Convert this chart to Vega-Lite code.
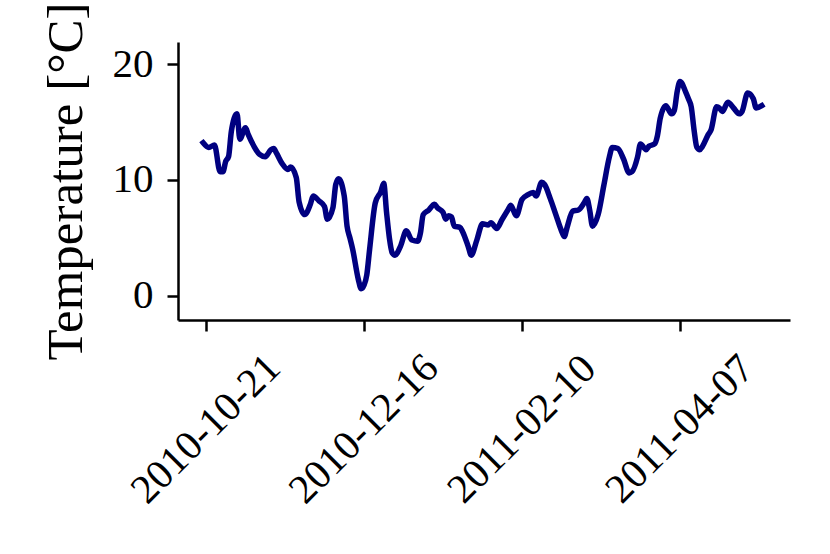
{
  "$schema": "https://vega.github.io/schema/vega-lite/v6.json",
  "width": 612,
  "height": 278,
  "autosize": "none",
  "padding": {"left": 178, "top": 42, "right": 40, "bottom": 234},
  "background": "white",
  "config": {
    "view": {"stroke": null},
    "font": "Liberation Serif",
    "axis": {"grid": false, "domainColor": "black", "tickColor": "black", "labelColor": "black", "titleColor": "black", "domainWidth": 2.5, "tickWidth": 2.5, "tickSize": 11, "labelFont": "Liberation Serif", "titleFont": "Liberation Serif", "labelFontSize": 41, "titleFontSize": 51, "titleFontWeight": "normal", "labelLimit": 0}
  },
  "data": {
    "values": [
      {"date": "2010-10-20", "temp": 13.2},
      {"date": "2010-10-22", "temp": 12.8},
      {"date": "2010-10-24", "temp": 13.0},
      {"date": "2010-10-26", "temp": 10.7},
      {"date": "2010-10-27", "temp": 10.7},
      {"date": "2010-10-28", "temp": 11.6},
      {"date": "2010-10-29", "temp": 12.0},
      {"date": "2010-10-30", "temp": 14.2},
      {"date": "2010-11-01", "temp": 15.7},
      {"date": "2010-11-02", "temp": 13.5},
      {"date": "2010-11-04", "temp": 14.5},
      {"date": "2010-11-05", "temp": 13.9},
      {"date": "2010-11-07", "temp": 12.9},
      {"date": "2010-11-09", "temp": 12.2},
      {"date": "2010-11-11", "temp": 12.0},
      {"date": "2010-11-13", "temp": 12.6},
      {"date": "2010-11-14", "temp": 12.7},
      {"date": "2010-11-15", "temp": 12.3},
      {"date": "2010-11-17", "temp": 11.4},
      {"date": "2010-11-19", "temp": 10.9},
      {"date": "2010-11-20", "temp": 11.1},
      {"date": "2010-11-22", "temp": 10.2},
      {"date": "2010-11-23", "temp": 8.1},
      {"date": "2010-11-25", "temp": 7.0},
      {"date": "2010-11-27", "temp": 7.9},
      {"date": "2010-11-28", "temp": 8.6},
      {"date": "2010-11-30", "temp": 8.2},
      {"date": "2010-12-02", "temp": 7.7},
      {"date": "2010-12-03", "temp": 6.6},
      {"date": "2010-12-05", "temp": 7.6},
      {"date": "2010-12-06", "temp": 9.6},
      {"date": "2010-12-07", "temp": 10.1},
      {"date": "2010-12-09", "temp": 8.6},
      {"date": "2010-12-10", "temp": 6.0},
      {"date": "2010-12-11", "temp": 5.0},
      {"date": "2010-12-12", "temp": 4.0},
      {"date": "2010-12-14", "temp": 1.4},
      {"date": "2010-12-15", "temp": 0.6},
      {"date": "2010-12-16", "temp": 0.9},
      {"date": "2010-12-17", "temp": 1.8},
      {"date": "2010-12-18", "temp": 4.0},
      {"date": "2010-12-20", "temp": 8.0},
      {"date": "2010-12-22", "temp": 9.0},
      {"date": "2010-12-23", "temp": 9.7},
      {"date": "2010-12-24", "temp": 7.2},
      {"date": "2010-12-25", "temp": 5.0},
      {"date": "2010-12-26", "temp": 3.7},
      {"date": "2010-12-27", "temp": 3.5},
      {"date": "2010-12-29", "temp": 4.3},
      {"date": "2010-12-31", "temp": 5.6},
      {"date": "2011-01-02", "temp": 4.8},
      {"date": "2011-01-04", "temp": 4.7},
      {"date": "2011-01-05", "temp": 5.4},
      {"date": "2011-01-06", "temp": 7.0},
      {"date": "2011-01-08", "temp": 7.4},
      {"date": "2011-01-10", "temp": 7.9},
      {"date": "2011-01-11", "temp": 7.6},
      {"date": "2011-01-13", "temp": 7.2},
      {"date": "2011-01-14", "temp": 6.6},
      {"date": "2011-01-15", "temp": 6.9},
      {"date": "2011-01-16", "temp": 6.8},
      {"date": "2011-01-17", "temp": 6.0},
      {"date": "2011-01-19", "temp": 5.9},
      {"date": "2011-01-20", "temp": 5.5},
      {"date": "2011-01-22", "temp": 4.2},
      {"date": "2011-01-23", "temp": 3.5},
      {"date": "2011-01-25", "temp": 4.8},
      {"date": "2011-01-27", "temp": 6.2},
      {"date": "2011-01-29", "temp": 6.1},
      {"date": "2011-01-30", "temp": 6.3},
      {"date": "2011-02-01", "temp": 5.8},
      {"date": "2011-02-03", "temp": 6.6},
      {"date": "2011-02-05", "temp": 7.4},
      {"date": "2011-02-06", "temp": 7.8},
      {"date": "2011-02-08", "temp": 6.9},
      {"date": "2011-02-10", "temp": 8.3},
      {"date": "2011-02-12", "temp": 8.7},
      {"date": "2011-02-14", "temp": 8.9},
      {"date": "2011-02-15", "temp": 8.6},
      {"date": "2011-02-17", "temp": 9.8},
      {"date": "2011-02-18", "temp": 9.6},
      {"date": "2011-02-20", "temp": 8.4},
      {"date": "2011-02-22", "temp": 7.0},
      {"date": "2011-02-24", "temp": 5.6},
      {"date": "2011-02-25", "temp": 5.1},
      {"date": "2011-02-26", "temp": 5.9},
      {"date": "2011-02-28", "temp": 7.3},
      {"date": "2011-03-02", "temp": 7.4},
      {"date": "2011-03-04", "temp": 8.0},
      {"date": "2011-03-05", "temp": 8.4},
      {"date": "2011-03-06", "temp": 7.4},
      {"date": "2011-03-07", "temp": 6.0},
      {"date": "2011-03-09", "temp": 7.0},
      {"date": "2011-03-11", "temp": 9.5},
      {"date": "2011-03-13", "temp": 12.0},
      {"date": "2011-03-14", "temp": 12.8},
      {"date": "2011-03-16", "temp": 12.7},
      {"date": "2011-03-18", "temp": 11.8},
      {"date": "2011-03-20", "temp": 10.6},
      {"date": "2011-03-21", "temp": 10.7},
      {"date": "2011-03-23", "temp": 12.0},
      {"date": "2011-03-24", "temp": 13.1},
      {"date": "2011-03-26", "temp": 12.6},
      {"date": "2011-03-27", "temp": 12.9},
      {"date": "2011-03-29", "temp": 13.1},
      {"date": "2011-03-30", "temp": 13.8},
      {"date": "2011-03-31", "temp": 15.3},
      {"date": "2011-04-02", "temp": 16.4},
      {"date": "2011-04-04", "temp": 15.7},
      {"date": "2011-04-05", "temp": 16.0},
      {"date": "2011-04-06", "temp": 17.6},
      {"date": "2011-04-07", "temp": 18.5},
      {"date": "2011-04-09", "temp": 17.6},
      {"date": "2011-04-10", "temp": 17.0},
      {"date": "2011-04-11", "temp": 16.3},
      {"date": "2011-04-12", "temp": 14.3},
      {"date": "2011-04-13", "temp": 12.8},
      {"date": "2011-04-14", "temp": 12.6},
      {"date": "2011-04-15", "temp": 12.9},
      {"date": "2011-04-17", "temp": 13.9},
      {"date": "2011-04-18", "temp": 14.3},
      {"date": "2011-04-20", "temp": 16.3},
      {"date": "2011-04-21", "temp": 16.2},
      {"date": "2011-04-22", "temp": 15.9},
      {"date": "2011-04-24", "temp": 16.7},
      {"date": "2011-04-26", "temp": 16.2},
      {"date": "2011-04-28", "temp": 15.7},
      {"date": "2011-04-29", "temp": 15.9},
      {"date": "2011-05-01", "temp": 17.5},
      {"date": "2011-05-03", "temp": 17.0},
      {"date": "2011-05-04", "temp": 16.2},
      {"date": "2011-05-06", "temp": 16.4}
    ]
  },
  "mark": {"type": "line", "color": "#000080", "strokeWidth": 5.5, "strokeJoin": "round", "strokeCap": "square", "interpolate": "monotone"},
  "encoding": {
    "x": {
      "field": "date",
      "type": "temporal",
      "scale": {"type": "utc", "domain": [{"year": 2010, "month": 10, "date": 11, "hours": 2, "utc": true}, {"year": 2011, "month": 5, "date": 16, "utc": true}]},
      "axis": {
        "title": null,
        "values": [{"year": 2010, "month": 10, "date": 21, "utc": true}, {"year": 2010, "month": 12, "date": 16, "utc": true}, {"year": 2011, "month": 2, "date": 10, "utc": true}, {"year": 2011, "month": 4, "date": 7, "utc": true}],
        "format": "%Y-%m-%d",
        "labelAngle": -45,
        "labelAlign": "center",
        "labelBaseline": "middle",
        "labelPadding": 98,
        "labelOverlap": false,
        "labelFlush": false,
        "labelBound": false,
        "labelLimit": 0
      }
    },
    "y": {
      "field": "temp",
      "type": "quantitative",
      "scale": {"domain": [-2.1, 21.9], "nice": false, "zero": false},
      "axis": {
        "title": "Temperature [°C]",
        "values": [0, 10, 20],
        "labelPadding": 14,
        "titlePadding": 20
      }
    }
  }
}
